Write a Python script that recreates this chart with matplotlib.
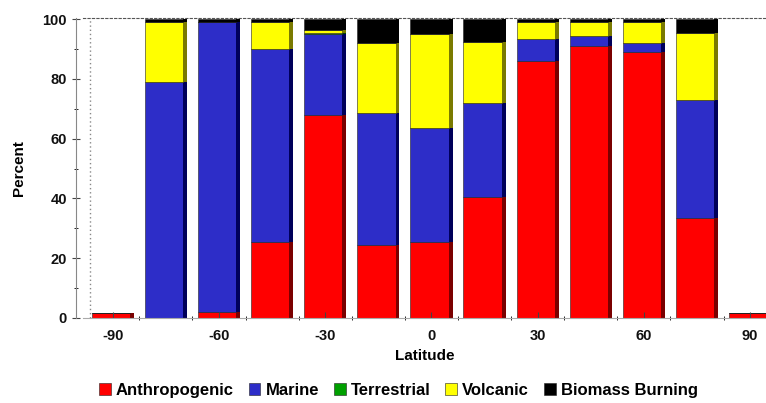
import numpy as np
import matplotlib
matplotlib.use("Agg")
import matplotlib.pyplot as plt

######data######
latitude = [-90, -75, -60, -45, -30, -15, 0, 15, 30, 45, 60, 75, 90]
anthropogenic = [1.5, 0, 2, 25.5, 68, 24.5, 25.5, 40.5, 86, 91, 89, 33.5, 1.5]
marine = [0, 79, 97, 64.5, 27, 44, 38, 31.5, 7.5, 3.5, 3, 39.5, 0]
terrestrial = [0, 0, 0, 0, 0.5, 0, 0, 0, 0, 0, 0, 0, 0]
volcanic = [0, 20, 0, 9, 1, 23.5, 31.5, 20.5, 5.5, 4.5, 7, 22.5, 0]
biomass = [0, 1, 1, 1, 3.5, 8, 5, 7.5, 1, 1, 1, 4.5, 0]

series = [anthropogenic, marine, terrestrial, volcanic, biomass]
names = ['Anthropogenic', 'Marine', 'Terrestrial', 'Volcanic', 'Biomass Burning']
colors = ['#ff0000', '#2d2dc8', '#00a000', '#ffff00', '#000000']
side_colors = ['#7a0000', '#00005a', '#004400', '#7a7a00', '#000000']

plt.rcParams['font.family'] = ['Liberation Sans', 'DejaVu Sans']
plt.rcParams['font.weight'] = 'bold'

fig = plt.figure(figsize=(7.66, 4.03), dpi=100)
ax = fig.add_axes([0.108, 0.211, 0.892, 0.745])

w = 10.8
side = 1.1
x = np.array(latitude, dtype=float)
bottom = np.zeros(len(x))
for vals, c, sc, nm in zip(series, colors, side_colors, names):
    v = np.array(vals, dtype=float)
    ax.bar(x - side / 2, v, width=w, bottom=bottom, color=c, edgecolor='#222222',
           linewidth=0.4, label=nm)
    ax.bar(x + w / 2, v, width=side, bottom=bottom, color=sc, edgecolor='none')
    bottom += v

ax.set_xlim(-98.5, 94.5)
ax.set_ylim(0, 100.5)
ax.set_xticks([-90, -60, -30, 0, 30, 60, 90])
ax.set_xticklabels(['-90', '-60', '-30', '0', '30', '60', '90'])
ax.set_xticks(np.arange(-82.5, 90, 15), minor=True)
ax.set_yticks([0, 20, 40, 60, 80, 100])
ax.set_yticks(np.arange(10, 100, 20), minor=True)
ax.tick_params(axis='both', labelsize=10.5, colors='#444444', labelcolor='#111111')
ax.tick_params(axis='y', direction='inout', length=6)
ax.tick_params(axis='x', direction='in', length=4, pad=8)
ax.tick_params(which='minor', length=3, direction='inout')

ax.spines['left'].set_color('#888888')
ax.spines['left'].set_position(('outward', 5))
ax.spines['bottom'].set_color('#aaaaaa')
ax.spines['right'].set_visible(False)
ax.spines['top'].set_linestyle((0, (2, 2)))
ax.spines['top'].set_color('#555555')
ax.axvline(-96.5, color='#888888', linestyle=(0, (1, 2)), linewidth=1)

ax.set_ylabel('Percent', fontsize=11, fontweight='bold', labelpad=12)
ax.set_xlabel('Latitude', fontsize=11, fontweight='bold', labelpad=4)

fig.legend(loc='lower center', bbox_to_anchor=(0.52, -0.025), ncol=5, frameon=False,
           fontsize=12, handlelength=0.7, handleheight=0.7, handletextpad=0.3,
           columnspacing=0.9)

fig.savefig('out.png', dpi=100)
